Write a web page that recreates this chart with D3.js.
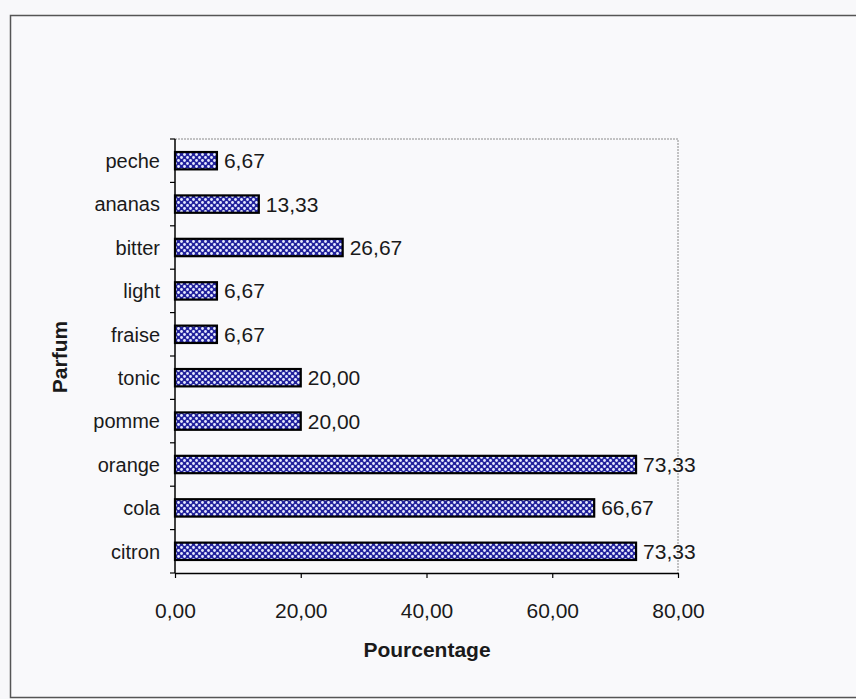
<!DOCTYPE html>
<html>
<head>
<meta charset="utf-8">
<script src="https://cdn.jsdelivr.net/npm/d3@7/dist/d3.min.js"></script>
<style>
  html, body { margin: 0; padding: 0; background: #f8f8fa; }
  svg { display: block; }
  text { font-family: "Liberation Sans", Arial, sans-serif; fill: #1a1a1a; }
</style>
</head>
<body>
<svg id="chart" width="856" height="699"></svg>
<script>
// Flavours, top to bottom, and the share of answers for each (%)
const categories = ["peche", "ananas", "bitter", "light", "fraise", "tonic", "pomme", "orange", "cola", "citron"];
const values = [6.67, 13.33, 26.67, 6.67, 6.67, 20.00, 20.00, 73.33, 66.67, 73.33];
const xTicks = [0, 20, 40, 60, 80];

const svg = d3.select("#chart");
const plot = { left: 175, right: 678, top: 139, bottom: 573 };
const fmt = v => v.toFixed(2).replace(".", ",");
const FS = 21;

// Outer chart frame
svg.append("rect")
  .attr("x", 10.5).attr("y", 15.5)
  .attr("width", 860).attr("height", 682)
  .attr("fill", "#f9f9fb")
  .attr("stroke", "#555").attr("stroke-width", 1.5);

// Checker-dot fill of the bars
const defs = svg.append("defs");
const pat = defs.append("pattern")
  .attr("id", "dots")
  .attr("patternUnits", "userSpaceOnUse")
  .attr("width", 6).attr("height", 6);
pat.append("rect").attr("width", 6).attr("height", 6).attr("fill", "#22229c");
pat.append("circle").attr("cx", 1.5).attr("cy", 1.5).attr("r", 1.4).attr("fill", "#e6eaff");
pat.append("circle").attr("cx", 4.5).attr("cy", 4.5).attr("r", 1.4).attr("fill", "#e6eaff");

const x = d3.scaleLinear().domain([0, 80]).range([plot.left, plot.right]);
const y = d3.scaleBand().domain(categories).range([plot.top, plot.bottom])
  .paddingInner(0.6).paddingOuter(0.3);

// Plot area: dotted top and right edges
svg.append("path")
  .attr("d", `M${plot.left},${plot.top}H${plot.right}V${plot.bottom}`)
  .attr("fill", "none")
  .attr("stroke", "#8a8a8a").attr("stroke-width", 1)
  .attr("stroke-dasharray", "2,1");

// Bars
svg.append("g").selectAll("rect")
  .data(categories)
  .join("rect")
  .attr("x", x(0))
  .attr("y", (d) => y(d))
  .attr("width", (d, i) => x(values[i]) - x(0))
  .attr("height", y.bandwidth())
  .attr("fill", "url(#dots)")
  .attr("stroke", "#000").attr("stroke-width", 2.2);

// Value labels
svg.append("g").selectAll("text")
  .data(categories)
  .join("text")
  .attr("x", (d, i) => x(values[i]) + 7)
  .attr("y", (d) => y(d) + y.bandwidth() / 2)
  .attr("dy", "0.36em")
  .attr("font-size", FS)
  .text((d, i) => fmt(values[i]));

// Y axis: ticks between categories, labels at band centres
const yTickPos = d3.range(categories.length + 1).map(i => plot.top + i * (plot.bottom - plot.top) / categories.length);
const yAxis = svg.append("g");
yAxis.append("line")
  .attr("x1", plot.left).attr("x2", plot.left)
  .attr("y1", plot.top).attr("y2", plot.bottom)
  .attr("stroke", "#000").attr("stroke-width", 1.5);
yAxis.selectAll("line.tick")
  .data(yTickPos)
  .join("line").attr("class", "tick")
  .attr("x1", plot.left - 5).attr("x2", plot.left)
  .attr("y1", d => d).attr("y2", d => d)
  .attr("stroke", "#000").attr("stroke-width", 1.2);
yAxis.selectAll("text")
  .data(categories)
  .join("text")
  .attr("x", plot.left - 15)
  .attr("y", d => y(d) + y.bandwidth() / 2)
  .attr("dy", "0.36em")
  .attr("text-anchor", "end")
  .attr("font-size", 20)
  .text(d => d);

// X axis
const xAxis = svg.append("g")
  .attr("transform", `translate(0,${plot.bottom})`)
  .call(d3.axisBottom(x).tickValues(xTicks).tickSize(5).tickSizeOuter(0).tickPadding(25).tickFormat(fmt));
xAxis.select(".domain").attr("stroke", "#000").attr("stroke-width", 1.5);
xAxis.selectAll(".tick line").attr("stroke", "#000").attr("stroke-width", 1.2);
xAxis.selectAll(".tick text")
  .attr("font-size", FS)
  .attr("font-family", "Liberation Sans, Arial, sans-serif")
  .attr("fill", "#1a1a1a");

// Axis titles
svg.append("text")
  .attr("x", 427)
  .attr("y", 657)
  .attr("text-anchor", "middle")
  .attr("font-size", FS).attr("font-weight", "bold")
  .text("Pourcentage");

svg.append("text")
  .attr("transform", `translate(67,357) rotate(-90)`)
  .attr("text-anchor", "middle")
  .attr("font-size", FS).attr("font-weight", "bold")
  .text("Parfum");
</script>
</body>
</html>
